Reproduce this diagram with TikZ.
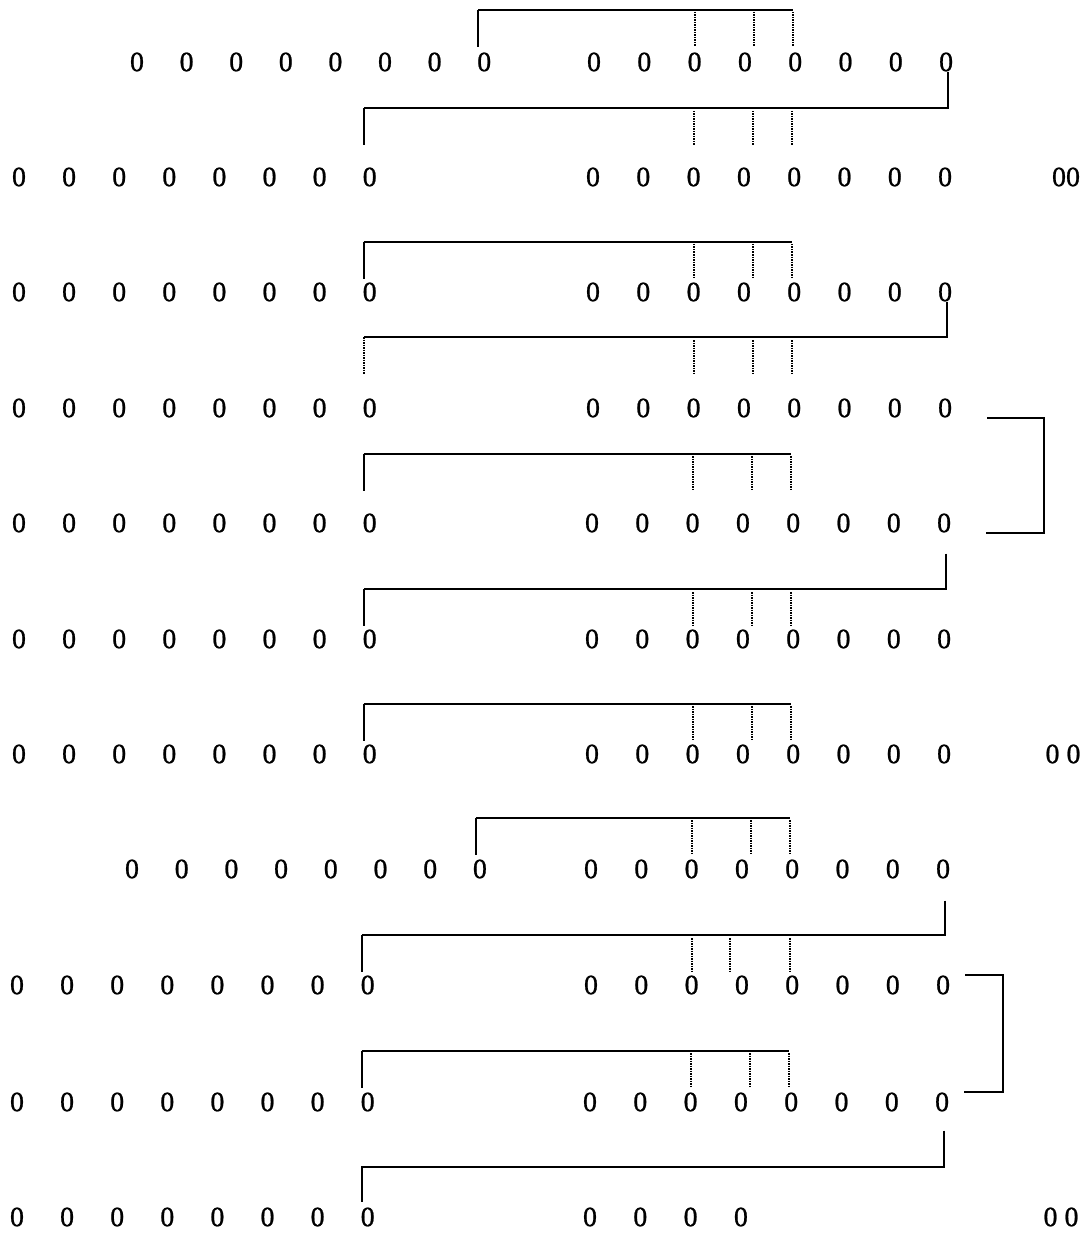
\documentclass[tikz,border=0pt]{standalone}
\usepackage{fontspec}
\setmainfont{Liberation Serif}
\newfontfamily\digitfont{Liberation Serif}[FakeBold=0.8]
\usetikzlibrary{calc}

\tikzset{
  digit/.style={inner sep=0pt, font=\digitfont\fontsize{28}{32}\selectfont},
  bar/.style={line width=1.8pt},
  tick/.style={line width=1.8pt, dash pattern=on 1.5pt off 1pt}
}

\begin{document}
\begin{tikzpicture}[x=1pt,y=-1pt]
  \useasboundingbox (0,0) rectangle (1086,1233);
  % rows of digits: row / y / left start / left step / right start / right count
  \foreach \row/\yy/\xl/\sl/\xr/\nr in {1/62/137/49.6/594/8, 2/177/19/50.1/593/8,
      3/292/19/50.1/593/8, 4/408/19/50.1/593/8, 5/523/19/50.1/592/8,
      6/639/19/50.1/592/8, 7/754/19/50.1/592/8, 8/869/132/49.7/591/8,
      9/985/17/50.1/591/8, 10/1102/17/50.1/590/8, 11/1217/17/50.1/590/4} {
    \foreach \i in {1,...,8}
      \node[digit] (r\row-l\i) at ({\xl+(\i-1)*\sl},\yy) {0};
    \foreach \i in {1,...,\nr}
      \node[digit] (r\row-r\i) at ({\xr+(\i-1)*50.3},\yy) {0};
  }
  % extra pairs on the right
  \node[digit] (x2) at (1066,177) {00};
  \node[digit] (x7) at (1063,754) {0 0};
  \node[digit] (x11) at (1061,1217) {0 0};

  % caps over a row: row / bar y / left shift
  \foreach \row/\yb/\dl in {1/10/-6, 3/242/-6, 5/454/-6, 7/704/-6, 8/818/-4, 10/1051/-6} {
    \coordinate (cap\row) at (0,\yb);
    \draw[bar] ([xshift=\dl pt]r\row-l8 |- cap\row) -- ++(0,37);
    \draw[bar] ([xshift=\dl pt]r\row-l8 |- cap\row) -- ([xshift=-2pt]r\row-r5 |- cap\row);
    \foreach \n/\dx in {3/0,4/9,5/-2}
      \draw[tick] ([xshift=\dx pt]r\row-r\n |- cap\row) ++(0,2) -- ++(0,35);
  }

  % links from one row down to the next: from / to / bar y / drop gap / left style / middle tick
  \foreach \a/\b/\yb/\dy/\ls/\mid in {1/2/108/0/bar/9, 3/4/337/0/tick/9,
      5/6/589/21/bar/9, 8/9/935/22/bar/-12} {
    \coordinate (link\a) at (0,\yb);
    \draw[bar] ([xshift=2pt,yshift=-\dy pt]r\a-r8.south) -- ([xshift=2pt]r\a-r8 |- link\a)
      -- ([xshift=-6pt]r\b-l8 |- link\a);
    \draw[\ls] ([xshift=-6pt]r\b-l8 |- link\a) -- ++(0,37);
    \foreach \n/\dx in {3/0,4/\mid,5/-2}
      \draw[tick] ([xshift=\dx pt]r\b-r\n |- link\a) ++(0,3) -- ++(0,34);
  }
  \coordinate (link10) at (0,1167);
  \draw[bar] ([xshift=2pt,yshift=-19pt]r10-r8.south) -- ([xshift=2pt]r10-r8 |- link10)
    -- ([xshift=-6pt]r11-l8 |- link10) -- ++(0,35);

  % side brackets
  \draw[bar] ([xshift=42pt]r4-r8.south) -- ([xshift=99pt]r4-r8.south) |- ([xshift=42pt]r5-r8.south);
  \draw[bar] ([xshift=22pt]r9-r8.north) -- ([xshift=60pt]r9-r8.north) |- ([xshift=22pt]r10-r8.north);
\end{tikzpicture}
\end{document}
